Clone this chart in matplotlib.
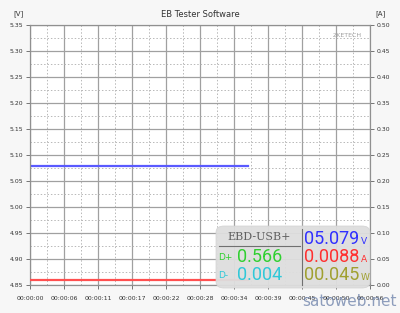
import matplotlib
matplotlib.use("Agg")
import matplotlib.pyplot as plt
from matplotlib.patches import FancyBboxPatch
import numpy as np

# Data
time_s = [0.0, 35.9]
voltage = [5.079, 5.079]
current = [0.0088, 0.0088]
x_tick_labels = ["00:00:00", "00:00:06", "00:00:11", "00:00:17", "00:00:22", "00:00:28",
                 "00:00:34", "00:00:39", "00:00:45", "00:00:50", "00:00:56"]
t_max = 56.0
v_range = (4.85, 5.35)
a_range = (0.0, 0.50)
panel_model = "EBD-USB+"
panel_dp = "0.566"
panel_dm = "0.004"
panel_v = "05.079"
panel_a = "0.0088"
panel_w = "00.045"

fig = plt.figure(figsize=(4.0, 3.13), dpi=100, facecolor="#f7f7f7")
ax = fig.add_axes([0.075, 0.0895, 0.85, 0.8305])
ax.set_facecolor("white")
ax2 = ax.twinx()

ax.set_xlim(0, t_max)
ax.set_ylim(*v_range)
ax2.set_ylim(*a_range)

xt = np.linspace(0, t_max, len(x_tick_labels))
ax.set_xticks(xt)
ax.set_xticklabels(x_tick_labels)
ax.set_xticks((xt[:-1] + xt[1:]) / 2, minor=True)
yt = np.arange(v_range[0], v_range[1] + 1e-9, 0.05)
ax.set_yticks(yt)
ax.set_yticklabels([f"{v:.2f}" for v in yt])
ax.set_yticks((yt[:-1] + yt[1:]) / 2, minor=True)
at = np.arange(a_range[0], a_range[1] + 1e-9, 0.05)
ax2.set_yticks(at)
ax2.set_yticklabels([f"{v:.2f}" for v in at])

ax.grid(which="major", color="#a0a0a0", linewidth=0.9, linestyle="-")
ax.grid(which="minor", color="#b8b8b8", linewidth=0.7, linestyle=(0, (1.5, 2)))
ax.set_axisbelow(True)

for a in (ax, ax2):
    a.tick_params(which="major", labelsize=4.4, length=3, width=0.6, color="#606060",
                  labelcolor="#333333", pad=2)
    a.tick_params(which="minor", length=0)
    for s in a.spines.values():
        s.set_color("#909090")
        s.set_linewidth(0.8)
ax.tick_params(axis="x", pad=5)

ax.plot(time_s, voltage, color="#5a5aff", linewidth=1.6, zorder=3)
ax2.plot(time_s, current, color="#ff5050", linewidth=1.6, zorder=3)

fig.text(0.5, 0.955, "EB Tester Software", ha="center", va="center", fontsize=6, color="#333333")
fig.text(0.045, 0.958, "[V]", ha="center", va="center", fontsize=5, color="#333333")
fig.text(0.952, 0.958, "[A]", ha="center", va="center", fontsize=5, color="#333333")
fig.text(0.905, 0.888, "ZKETECH", ha="right", va="center", fontsize=4.5, color="#a0a0a0")

# overlay panel (figure coordinates in pixels)
W, H = 400.0, 313.0
def fx(px): return px / W
def fy(py): return 1 - py / H

box = FancyBboxPatch((fx(216), fy(288)), fx(370) - fx(216), fy(226) - fy(288),
                     boxstyle="round,pad=0,rounding_size=0.02", transform=fig.transFigure,
                     facecolor="#dedede", edgecolor="#d0d0d0", linewidth=0.5, alpha=0.95,
                     zorder=10)
fig.patches.append(box)
fig.add_artist(plt.Line2D([fx(219), fx(300)], [fy(246), fy(246)], color="#707070",
                          linewidth=0.8, transform=fig.transFigure, zorder=11))
fig.add_artist(plt.Line2D([fx(302), fx(302)], [fy(229), fy(285)], color="#707070",
                          linewidth=0.8, transform=fig.transFigure, zorder=11))
fig.text(fx(259), fy(237), panel_model, ha="center", va="center", fontsize=8,
         family="DejaVu Serif", color="#606060", zorder=12)
seg = dict(ha="left", va="center", fontsize=13, zorder=12, family=["Roboto", "DejaVu Sans"],
           fontweight="normal")
fig.text(fx(218), fy(258), "D+", ha="left", va="center", fontsize=6.5, color="#30d030", zorder=12)
fig.text(fx(237), fy(257), panel_dp, color="#30d030", **seg)
fig.text(fx(218), fy(276), "D-", ha="left", va="center", fontsize=6.5, color="#30c8d8", zorder=12)
fig.text(fx(237), fy(275), panel_dm, color="#30c8d8", **seg)
fig.text(fx(304), fy(239), panel_v, color="#3030ff", **seg)
fig.text(fx(304), fy(257), panel_a, color="#ff3030", **seg)
fig.text(fx(304), fy(275), panel_w, color="#a0a030", **seg)
fig.text(fx(361), fy(241), "V", ha="left", va="center", fontsize=6.5, color="#3030ff", zorder=12)
fig.text(fx(361), fy(259), "A", ha="left", va="center", fontsize=6.5, color="#ff3030", zorder=12)
fig.text(fx(361), fy(277), "W", ha="left", va="center", fontsize=6.5, color="#a0a030", zorder=12)

fig.text(fx(397), fy(301), "satoweb.net", ha="right", va="center", fontsize=11,
         color="#6a7fa8", alpha=0.75, zorder=13)

fig.savefig("out.png", dpi=100, facecolor=fig.get_facecolor())
